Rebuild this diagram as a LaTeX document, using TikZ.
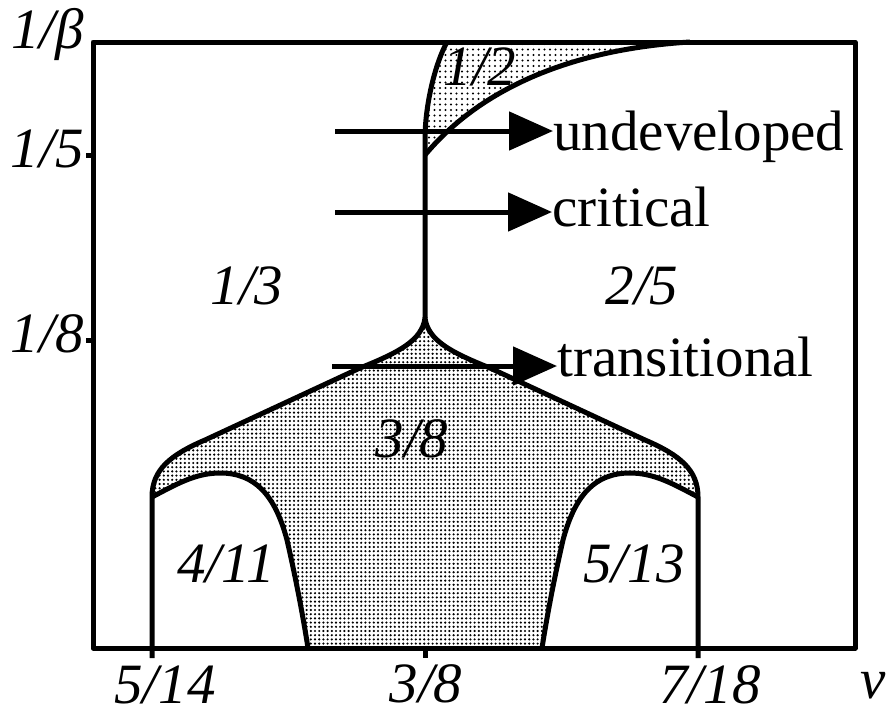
\documentclass[tikz,border=0pt]{standalone}
\usepackage{fontspec}
\setmainfont{Liberation Serif}
\usetikzlibrary{arrows.meta,patterns}
\pgfdeclarepatternformonly{densedots}{\pgfqpoint{-1.5pt}{-1.5pt}}{\pgfqpoint{1.5pt}{1.5pt}}{\pgfqpoint{4.2pt}{4.2pt}}{\pgfpathcircle{\pgfpointorigin}{1.2pt}\pgfusepath{fill}}
\pgfdeclarepatternformonly{sparsedots}{\pgfqpoint{-1.5pt}{-1.5pt}}{\pgfqpoint{1.5pt}{1.5pt}}{\pgfqpoint{5.5pt}{5.5pt}}{\pgfpathcircle{\pgfpointorigin}{1.2pt}\pgfusepath{fill}}
\tikzset{
  bigit/.style={font=\fontsize{57}{60}\selectfont\itshape, inner sep=0pt},
  bigrm/.style={font=\fontsize{57}{60}\selectfont, inner sep=0pt},
  thick line/.style={line width=5pt, line join=round},
  arr/.style={line width=5pt, -{Triangle[length=44pt,width=38pt]}},
}
\begin{document}
\begin{tikzpicture}[x=1pt,y=-1pt]
\useasboundingbox (0,0) rectangle (890,715);
% shaded regions
\fill[pattern=sparsedots] (425,155) -- (425,135) .. controls (426,100) and (436,62) .. (447,42) -- (690,42) .. controls (560,50) and (475,95) .. (425,155) -- cycle;
\fill[pattern=densedots] (308,648) .. controls (302,610) and (295,575) .. (287,540) .. controls (275,495) and (255,473) .. (220,473) .. controls (195,473) and (175,485) .. (152,497) .. controls (152,470) and (170,455) .. (205,440) -- (360,368) .. controls (400,352) and (422,340) .. (425,318) .. controls (428,340) and (450,352) .. (490,368) -- (645,440) .. controls (680,455) and (698,470) .. (698,497) .. controls (675,485) and (655,473) .. (630,473) .. controls (595,473) and (575,495) .. (563,540) .. controls (555,575) and (548,610) .. (542,648) -- cycle;
% frame
\draw[thick line] (93,42) rectangle (855,648);
% ticks
\draw[thick line] (86,155) -- (93,155);
\draw[thick line] (86,340) -- (93,340);
\draw[thick line] (425,648) -- (425,658);
% boundaries
\draw[thick line] (152,658) -- (152,497) .. controls (152,470) and (170,455) .. (205,440) -- (360,368) .. controls (400,352) and (422,340) .. (425,318) .. controls (428,340) and (450,352) .. (490,368) -- (645,440) .. controls (680,455) and (698,470) .. (698,497) -- (698,658);
\draw[thick line] (152,497) .. controls (175,485) and (195,473) .. (220,473) .. controls (255,473) and (275,495) .. (287,540) .. controls (295,575) and (302,610) .. (308,648);
\draw[thick line] (698,497) .. controls (675,485) and (655,473) .. (630,473) .. controls (595,473) and (575,495) .. (563,540) .. controls (555,575) and (548,610) .. (542,648);
\draw[thick line] (425,318) -- (425,135) .. controls (426,100) and (436,62) .. (447,42);
\draw[thick line] (425,155) .. controls (475,95) and (560,50) .. (690,42);
% arrow labels
\node[bigrm, anchor=base west] (ulab) at (553,150) {undeveloped};
\node[bigrm, anchor=base west] (clab) at (552,226) {critical};
\node[bigrm, anchor=base west] (tlab) at (557,376) {transitional};
\coordinate (u0) at (335,131);
\coordinate (c0) at (335,212);
\coordinate (t0) at (332,366);
\draw[arr] (u0) -- (u0 -| ulab.west);
\draw[arr] (c0) -- (c0 -| clab.west);
\draw[arr] (t0) -- (t0 -| tlab.west);
% region labels
\node[bigit, anchor=base] (r12) at (480,85) {1/2};
\node[bigit, anchor=base] (r13) at (247,304) {1/3};
\node[bigit, anchor=base] (r25) at (642,304) {2/5};
\node[bigit, anchor=base] (r38) at (412,457) {3/8};
\node[bigit, anchor=base] (r411) at (226,582) {4/11};
\node[bigit, anchor=base] (r513) at (634,582) {5/13};
% axis labels
\node[bigit, anchor=base east] (yb) at (84,48) {1/β};
\node[bigit, anchor=base east] (y5) at (84,167) {1/5};
\node[bigit, anchor=base east] (y8) at (84,352) {1/8};
\node[bigit, anchor=base] (x514) at (165,703) {5/14};
\node[bigit, anchor=base] (x38) at (426,702) {3/8};
\node[bigit, anchor=base] (x718) at (710,703) {7/18};
\node[bigit, anchor=base] (xnu) at (873,698) {ν};
\end{tikzpicture}
\end{document}
